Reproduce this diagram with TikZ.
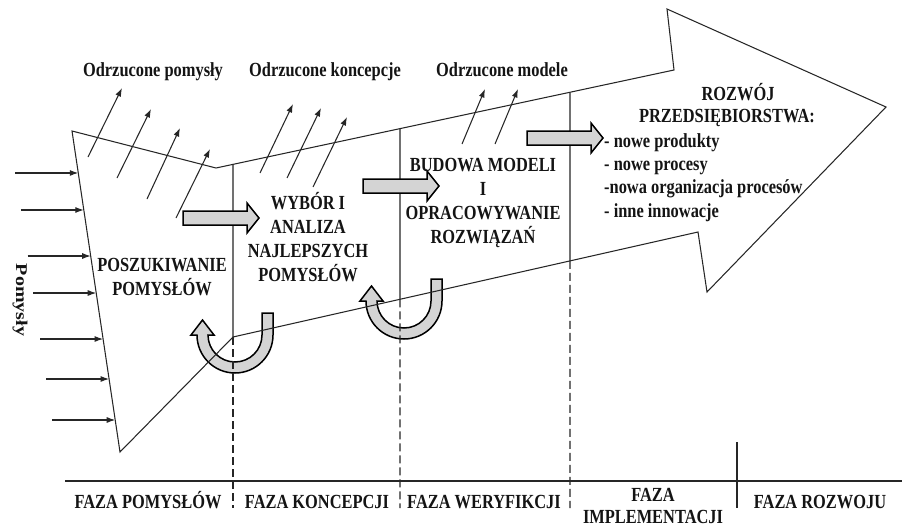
\documentclass[tikz,border=0pt]{standalone}
\usepackage{fontspec}
\usetikzlibrary{arrows.meta,calc}
\newfontfamily\labfont{Liberation Serif}[FakeStretch=0.82]
\newfontfamily\labplain{Liberation Serif}
\definecolor{ink}{HTML}{141414}
\definecolor{linegray}{HTML}{262626}
\definecolor{arrowfill}{HTML}{D4D4D4}

\begin{document}
\begin{tikzpicture}[x=1pt,y=-1pt,
  lbl/.style={font=\labfont\bfseries\fontsize{20}{24}\selectfont, text=ink, inner sep=0pt, align=center},
  thinline/.style={draw=linegray, line width=1.05pt},
  ray/.style={thinline, -{Latex[length=8.5pt,width=6pt]}},
  blockarrow/.style={draw=black, line width=1.5pt, fill=arrowfill, line join=miter},
  phase/.style={thinline, dash pattern=on 8pt off 4pt},
  pics/fwd/.style={code={
    \draw[blockarrow] (0,-7) -- (64,-7) -- (64,-15) -- (76,0) -- (64,15) -- (64,7) -- (0,7) -- cycle;
  }},
  pics/uturn/.style={code={
    \draw[blockarrow] (38,-22) -- (38,0) arc[start angle=0,end angle=180,radius=38]
      -- (-44,0) -- (-32.5,-15) -- (-21,0) -- (-27,0)
      arc[start angle=180,end angle=0,radius=27] -- (27,-22) -- cycle;
  }},
]
% page
\fill[white] (0,0) rectangle (902,527);
\path[use as bounding box] (0,0) rectangle (902,527);

% outline of the big process arrow
\coordinate (P1) at (72,131);
\coordinate (P2) at (216,168);
\coordinate (P3) at (674,70);
\coordinate (P4) at (667,9);
\coordinate (P5) at (886,107);
\coordinate (P6) at (707,292);
\coordinate (P7) at (698,232);
\coordinate (P8) at (233,337);
\coordinate (P9) at (120,452);

% feedback loops (drawn first, lines pass over them)
\pic at (235,335) {uturn};
\pic at (404,301) {uturn};

\draw[thinline, line join=miter] (P1) -- (P2) -- (P3) -- (P4) -- (P5) -- (P6) -- (P7) -- (P8) -- (P9) -- cycle;

% phase boundaries inside the arrow
\coordinate (t233) at ($(P2)!0.0371!(P3)$);
\coordinate (t400) at ($(P2)!0.4017!(P3)$);
\coordinate (b400) at ($(P8)!0.3591!(P7)$);
\coordinate (t570) at ($(P2)!0.7729!(P3)$);
\coordinate (b570) at ($(P8)!0.7247!(P7)$);
\coordinate (f233) at (233,508);
\coordinate (f400) at (400,508);
\coordinate (f570) at (570,508);
\draw[thinline] (t233) -- (P8);
\draw[thinline] (t400) -- (b400);
\draw[thinline] (t570) -- (b570);
\draw[phase] (P8) -- (f233);
\draw[phase] (b400) -- (f400);
\draw[phase] (b570) -- (f570);

% time axis
\coordinate (axL) at (65,481);
\coordinate (axR) at (902,481);
\draw[thinline] (axL) -- (axR);
\coordinate (sepT) at (737,442);
\coordinate (sepB) at (737,508);
\draw[thinline] (sepT) -- (sepB);

% incoming ideas
\foreach \t [count=\i] in {0.1308,0.2461,0.3894,0.5047,0.6480,0.7726,0.9003} {
  \coordinate (in\i) at ($(P1)!\t!(P9)$);
  \coordinate (src\i) at ($(in\i)+(-63,0)$);
  \draw[ray] (src\i) -- (in\i);
}

% rejected items leaving the arrow
\foreach \ax/\ay/\bx/\by [count=\i] in {
   88/157/122/88, 117/178/151/109, 147/199/180/128, 176/218/210/149,
   260/173/293/104, 287/178/321/108, 313/187/347/117,
   462/144/485/89, 495/144/518/89} {
  \coordinate (rs\i) at (\ax,\ay);
  \coordinate (re\i) at (\bx,\by);
  \draw[ray] (rs\i) -- (re\i);
}

% forward block arrows
\pic at (183,218) {fwd};
\pic at (363,186) {fwd};
\pic at (527,138) {fwd};

% labels (base anchor of a multi-line node = baseline of its last line)
\node[lbl, anchor=base] (rejIdeas) at (153,77) {Odrzucone pomysły};
\node[lbl, anchor=base] (rejConcepts) at (325,77) {Odrzucone koncepcje};
\node[lbl, anchor=base] (rejModels) at (502,77) {Odrzucone modele};

\node[lbl, anchor=base] (search) at (162,295) {POSZUKIWANIE\\POMYSŁÓW};
\node[lbl, anchor=base, font=\labfont\bfseries\fontsize{20}{24.2}\selectfont] (select) at (308,281.6) {WYBÓR I\\ANALIZA\\NAJLEPSZYCH\\POMYSŁÓW};
\node[lbl, anchor=base, font=\labfont\bfseries\fontsize{20}{23.7}\selectfont] (build) at (483,243) {BUDOWA MODELI\\I\\OPRACOWYWANIE\\ROZWIĄZAŃ};
\node[lbl, anchor=base] (growth) at (738,100) {ROZWÓJ};
\node[lbl, anchor=base] (firm) at (727,122.7) {PRZEDSIĘBIORSTWA:};
\node[lbl, anchor=base west, align=left, font=\labfont\bfseries\fontsize{20}{23.3}\selectfont] (outcomes) at (604,217) {- nowe produkty\\- nowe procesy\\-nowa organizacja procesów\\- inne innowacje};

\node[rotate=-90, inner sep=0pt, text=ink] (ideas) at (20,300) {\scalebox{1}[0.82]{\labplain\bfseries\fontsize{20}{24}\selectfont Pomysły}};

% phase names
\node[lbl, anchor=base] (ph1) at (148,508) {FAZA POMYSŁÓW};
\node[lbl, anchor=base] (ph2) at (317,508) {FAZA KONCEPCJI};
\node[lbl, anchor=base] (ph3) at (484,508) {FAZA WERYFIKCJI};
\node[lbl, anchor=base, font=\labfont\bfseries\fontsize{20}{22}\selectfont] (ph4) at (653,523) {FAZA\\IMPLEMENTACJI};
\node[lbl, anchor=base] (ph5) at (820,508) {FAZA ROZWOJU};
\end{tikzpicture}
\end{document}
